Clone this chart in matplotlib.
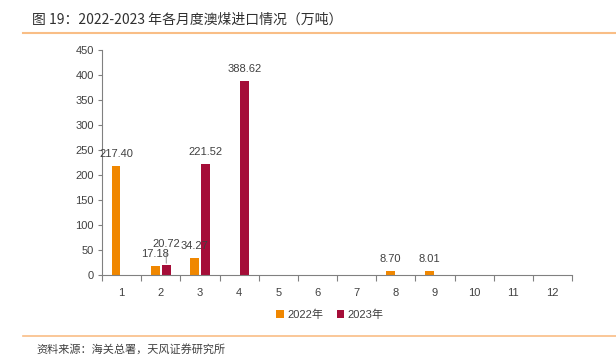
import matplotlib
matplotlib.use("Agg")
import matplotlib.pyplot as plt
from matplotlib.lines import Line2D
import numpy as np

plt.rcParams['font.family'] = ['Liberation Sans', 'Noto Sans CJK SC', 'DejaVu Sans']

months = ['1', '2', '3', '4', '5', '6', '7', '8', '9', '10', '11', '12']
v2022 = [217.40, 17.18, 34.27, 0, 0, 0, 0, 8.70, 8.01, 0, 0, 0]
v2023 = [0, 20.72, 221.52, 388.62, 0, 0, 0, 0, 0, 0, 0, 0]
series_names = ['2022年', '2023年']
title = '图 19：2022-2023 年各月度澳煤进口情况（万吨）'
source = '资料来源：海关总署，天风证券研究所'

c2022 = '#F08700'
c2023 = '#A50D38'
txt = '#404040'

fig = plt.figure(figsize=(6.16, 3.55), dpi=100)
ax = fig.add_axes([102/616, 1-275/355, 470/616, 225/355])

x = np.arange(1, 13)
w = 0.22
off = 0.14
ax.bar(x - off, v2022, width=w, color=c2022, label=series_names[0])
ax.bar(x + off, v2023, width=w, color=c2023, label=series_names[1])

for xi, v in zip(x, v2022):
    if v > 0:
        ax.annotate(f'{v:.2f}', (xi - off, v), xytext=(0, 5), textcoords='offset points',
                    ha='center', va='bottom', fontsize=8, color=txt)
for xi, v in zip(x, v2023):
    if v > 0:
        if xi == 2:
            ax.annotate(f'{v:.2f}', (xi + off, v), xytext=(0, 11), textcoords='offset points',
                        ha='center', va='bottom', fontsize=8, color=txt,
                        arrowprops=dict(arrowstyle='-', color='#808080', lw=0.6,
                                        shrinkA=0, shrinkB=1))
        else:
            ax.annotate(f'{v:.2f}', (xi + off, v), xytext=(0, 5), textcoords='offset points',
                        ha='center', va='bottom', fontsize=8, color=txt)

ax.set_xlim(0.5, 12.5)
ax.set_ylim(0, 450)
ax.set_yticks(np.arange(0, 451, 50))
ax.set_xticks(x)
ax.set_xticklabels(months)
ax.set_xticks(np.arange(0.5, 12.6, 1), minor=True)
ax.tick_params(axis='x', which='major', length=0, pad=9, labelsize=8, colors=txt)
ax.tick_params(axis='x', which='minor', length=4, color='#808080', width=0.8)
ax.tick_params(axis='y', length=3, color='#808080', width=0.8, labelsize=8, labelcolor=txt, pad=3)
for s in ['top', 'right']:
    ax.spines[s].set_visible(False)
for s in ['left', 'bottom']:
    ax.spines[s].set_color('#808080')
    ax.spines[s].set_linewidth(0.8)

leg = fig.legend(loc='center', bbox_to_anchor=(330/616, 1-315/355), ncol=2, frameon=False,
                 fontsize=8, handlelength=0.7, handleheight=0.7, handletextpad=0.3,
                 columnspacing=1.2, labelcolor=txt,
                 prop={'family': ['Liberation Sans', 'Noto Sans CJK SC'], 'size': 8})

fig.text(32/616, 1-20/355, title, fontsize=10, color='#303030', va='center', ha='left',
         family=['Noto Sans CJK SC', 'DejaVu Sans'])
fig.add_artist(Line2D([23/616, 1.0], [1-33/355, 1-33/355], color='#F9BE86', lw=1.5,
                      transform=fig.transFigure))
fig.add_artist(Line2D([23/616, 1.0], [1-336/355, 1-336/355], color='#F9BE86', lw=1.2,
                      transform=fig.transFigure))
fig.text(36/616, 1-349/355, source, fontsize=8, color='#404040', va='center', ha='left',
         family=['Noto Sans CJK SC', 'DejaVu Sans'])

fig.savefig('out.png', dpi=100)
